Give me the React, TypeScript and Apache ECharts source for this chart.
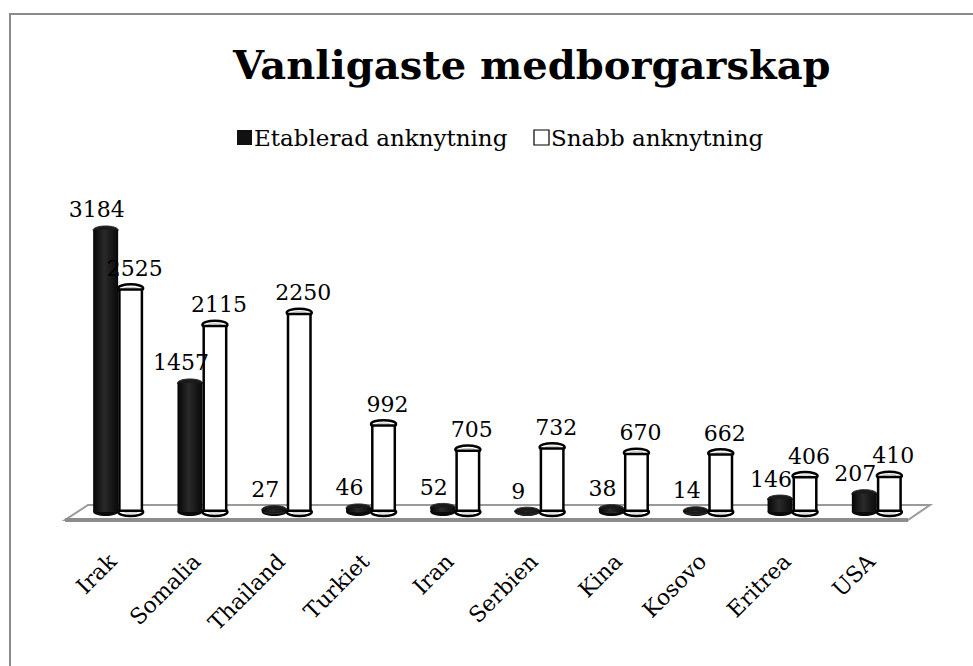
import React, { useEffect, useRef } from "react";
import * as echarts from "echarts";

const categories = ["Irak", "Somalia", "Thailand", "Turkiet", "Iran", "Serbien", "Kina", "Kosovo", "Eritrea", "USA"];
const etablerad = [3184, 1457, 27, 46, 52, 9, 38, 14, 146, 207];
const snabb = [2525, 2115, 2250, 992, 705, 732, 670, 662, 406, 410];
const seriesNames = ["Etablerad anknytning", "Snabb anknytning"];
const titleText = "Vanligaste medborgarskap";

const FONT = "DejaVu Serif";
const BAR_W = 25;

export default function App() {
  const ref = useRef<HTMLDivElement>(null);
  useEffect(() => {
    if (!ref.current) return;
    const chart = echarts.init(ref.current, undefined, { renderer: "svg" });
    const blackGrad = new echarts.graphic.LinearGradient(0, 0, 1, 0, [
      { offset: 0, color: "#050505" },
      { offset: 0.45, color: "#2a2a2a" },
      { offset: 1, color: "#080808" },
    ]);
    const labelStyle = {
      show: true,
      position: "top" as const,
      distance: 9,
      fontFamily: FONT,
      fontSize: 22,
      color: "#000",
    };
    const capData = categories.map((c, i) => [i, etablerad[i], snabb[i]]);
    const renderCaps = (params: any, api: any) => {
      const i = api.value(0);
      const base = api.coord([i, 0]);
      const t1 = api.coord([i, api.value(1)]);
      const t2 = api.coord([i, api.value(2)]);
      const rx = BAR_W / 2;
      const ry = 4;
      const cxB = base[0] - BAR_W / 2;
      const cxW = base[0] + BAR_W / 2;
      return {
        type: "group",
        children: [
          { type: "ellipse", shape: { cx: cxB, cy: base[1], rx, ry }, style: { fill: "#0a0a0a" } },
          { type: "ellipse", shape: { cx: cxB, cy: t1[1], rx, ry }, style: { fill: "#1a1a1a", stroke: "#2e2e2e", lineWidth: 1 } },
          { type: "ellipse", shape: { cx: cxW, cy: base[1], rx, ry }, style: { fill: "#fff", stroke: "#000", lineWidth: 2.5 } },
          { type: "ellipse", shape: { cx: cxW, cy: base[1], rx: rx - 6, ry: 1 }, style: { fill: "none", stroke: "#bbb", lineWidth: 1 } },
          { type: "ellipse", shape: { cx: cxW, cy: t2[1], rx, ry }, style: { fill: "#fff", stroke: "#000", lineWidth: 2.5 } },
          { type: "ellipse", shape: { cx: cxW, cy: t2[1], rx: rx - 6, ry: 1 }, style: { fill: "none", stroke: "#bbb", lineWidth: 1 } },
        ],
      };
    };
    chart.setOption({
      animation: false,
      backgroundColor: "#fff",
      title: {
        text: titleText,
        left: 228,
        top: 39,
        textStyle: { fontFamily: FONT, fontWeight: "bold", fontSize: 40, color: "#000" },
      },
      legend: {
        top: 121,
        left: 232,
        itemWidth: 15,
        itemHeight: 15,
        itemGap: 26,
        textStyle: { fontFamily: FONT, fontSize: 23, color: "#000", padding: [0, 0, 0, -3] },
        data: [
          { name: seriesNames[0], icon: "rect", itemStyle: { color: "#111", borderWidth: 0 } },
          { name: seriesNames[1], icon: "rect", itemStyle: { color: "#fff", borderColor: "#000", borderWidth: 1.2 } },
        ],
      },
      grid: { left: 76, right: 54, top: 202, bottom: 154 },
      xAxis: {
        type: "category",
        data: categories,
        axisLine: { show: false },
        axisTick: { show: false },
        axisLabel: {
          rotate: 45,
          margin: 40,
          fontFamily: FONT,
          fontSize: 22,
          color: "#000",
          interval: 0,
          padding: [0, 8, 0, 0],
        },
      },
      yAxis: {
        type: "value",
        min: 0,
        max: 3500,
        show: false,
        splitLine: { show: false },
      },
      graphic: [
        {
          type: "polygon",
          z: -10,
          shape: { points: [[88, 505], [930, 505], [908, 520], [65, 520]] },
          style: { fill: "#fff", stroke: "#9a9a9a", lineWidth: 2 },
          silent: true,
        },
        {
          type: "line",
          z: -9,
          shape: { x1: 65, y1: 520, x2: 908, y2: 520 },
          style: { stroke: "#8c8c8c", lineWidth: 4 },
          silent: true,
        },
        {
          type: "line",
          shape: { x1: 10, y1: 14, x2: 973, y2: 14 },
          style: { stroke: "#8a8a8a", lineWidth: 2 },
          silent: true,
        },
        {
          type: "line",
          shape: { x1: 10, y1: 13, x2: 10, y2: 666 },
          style: { stroke: "#8a8a8a", lineWidth: 2 },
          silent: true,
        },
      ],
      series: [
        {
          name: seriesNames[0],
          type: "bar",
          data: etablerad,
          barWidth: BAR_W,
          barGap: "0%",
          itemStyle: { color: blackGrad },
          label: { ...labelStyle, offset: [-9, 0] },
          z: 3,
        },
        {
          name: seriesNames[1],
          type: "bar",
          data: snabb,
          barWidth: BAR_W,
          barGap: "0%",
          itemStyle: { color: "#fff", borderColor: "#000", borderWidth: 2.5 },
          label: { ...labelStyle, offset: [4, 0] },
          z: 3,
        },
        {
          name: "caps",
          type: "custom",
          data: capData,
          encode: { x: 0, y: 1 },
          renderItem: renderCaps,
          z: 2,
          silent: true,
          clip: false,
        },
      ],
    });
    return () => chart.dispose();
  }, []);
  return (
    <div
      ref={ref}
      style={{ position: "fixed", left: 0, top: 0, width: 973, height: 666 }}
    />
  );
}
